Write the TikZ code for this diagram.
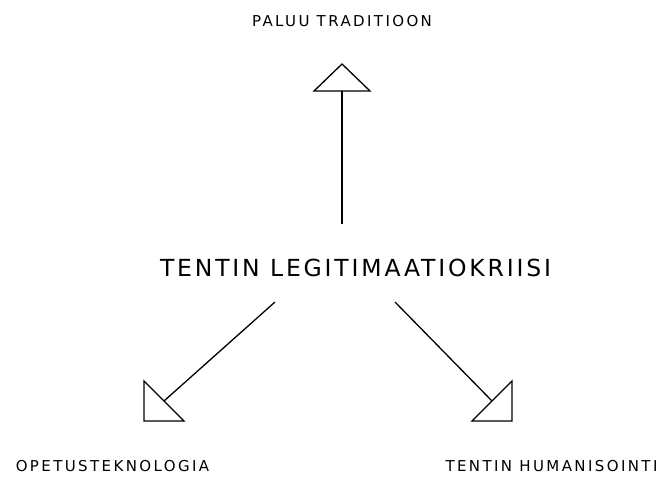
\documentclass[tikz,border=0pt]{standalone}
\usepackage{fontspec}
\setmainfont{DejaVu Sans}
\newfontfamily\smallfont[LetterSpace=16]{DejaVu Sans}
\newfontfamily\bigfont[LetterSpace=12]{DejaVu Sans}
\begin{document}
\begin{tikzpicture}[x=1pt,y=-1pt,
  small/.style={font=\smallfont\fontsize{15}{17}\selectfont, inner sep=0pt, anchor=center},
  big/.style={font=\bigfont\fontsize{23.5}{28}\selectfont, inner sep=0pt, anchor=center},
  conn/.style={line width=1.3pt},
  head/.style={line width=1.3pt, fill=white, line join=miter}]
\useasboundingbox (0,0) rectangle (663,477);
\node[small] (trad) at (342,21) {PALUU TRADITIOON};
\node[big] (crisis) at (355.5,268) {TENTIN LEGITIMAATIOKRIISI};
\node[small] (tech) at (112.5,466) {OPETUSTEKNOLOGIA};
\node[small] (hum) at (551.5,466) {TENTIN HUMANISOINTI};
\coordinate (upS) at (342,224);
\coordinate (upE) at (342,91);
\coordinate (lS) at (275,302);
\coordinate (lE) at (164,401);
\coordinate (rS) at (395,302);
\coordinate (rE) at (492,401);
\draw[conn] (upS) -- (upE);
\draw[conn] (lS) -- (lE);
\draw[conn] (rS) -- (rE);
\draw[head] (314,91) -- (342,64) -- (370,91) -- cycle;
\draw[head] (144,381) -- (144,421) -- (184,421) -- cycle;
\draw[head] (512,381) -- (512,421) -- (472,421) -- cycle;
\end{tikzpicture}
\end{document}
